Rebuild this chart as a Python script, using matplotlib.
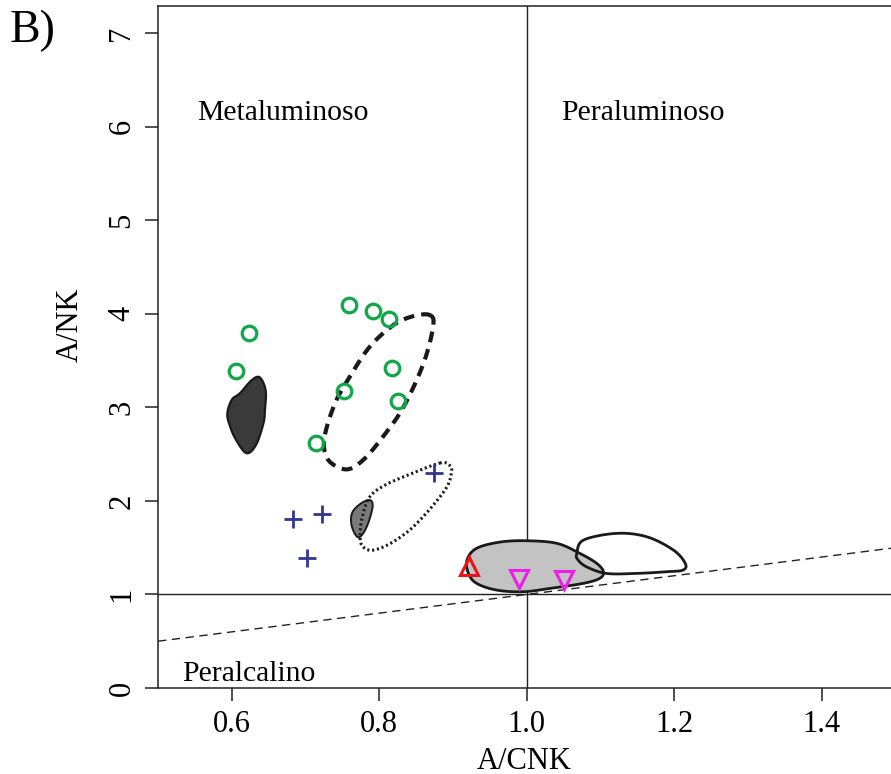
import numpy as np
import matplotlib
matplotlib.use("Agg")
import matplotlib.pyplot as plt
from matplotlib.patches import Polygon

plt.rcParams['font.family'] = ['Liberation Serif', 'DejaVu Serif']

# ---- data ----
green_x = [0.606, 0.623, 0.759, 0.792, 0.813, 0.817, 0.752, 0.825, 0.714]
green_y = [3.39, 3.79, 4.09, 4.03, 3.94, 3.42, 3.17, 3.07, 2.62]

cross_x = [0.874, 0.683, 0.722, 0.702]
cross_y = [2.30, 1.81, 1.86, 1.39]

red_x = [0.922]
red_y = [1.30]

mag_x = [0.989, 1.050]
mag_y = [1.17, 1.15]

# field outlines (vertices, data units)
dark_x = [0.638, 0.646, 0.645, 0.643, 0.633, 0.620, 0.606, 0.598, 0.594, 0.600, 0.611, 0.627]
dark_y = [3.32, 3.18, 2.97, 2.83, 2.60, 2.51, 2.65, 2.79, 2.93, 3.08, 3.15, 3.29]

dash_x = [0.869, 0.873, 0.860, 0.833, 0.805, 0.778, 0.756, 0.733, 0.725, 0.729, 0.742, 0.760, 0.787, 0.819, 0.846]
dash_y = [3.985, 3.86, 3.47, 3.005, 2.685, 2.436, 2.337, 2.418, 2.578, 2.792, 3.077, 3.326, 3.646, 3.878, 3.974]

dot_x = [0.882, 0.895, 0.898, 0.889, 0.851, 0.819, 0.792, 0.778, 0.774, 0.777, 0.787, 0.808, 0.842]
dot_y = [2.404, 2.383, 2.31, 2.115, 1.760, 1.563, 1.474, 1.510, 1.616, 1.827, 2.041, 2.169, 2.286]

small_x = [0.787, 0.791, 0.783, 0.772, 0.763, 0.763, 0.774]
small_y = [2.009, 1.937, 1.723, 1.610, 1.723, 1.866, 1.966]

light_x = [0.919, 0.932, 0.964, 1.000, 1.041, 1.072, 1.095, 1.104, 1.099, 1.077, 1.032, 0.995, 0.959, 0.932, 0.921]
light_y = [1.368, 1.493, 1.560, 1.574, 1.546, 1.439, 1.332, 1.243, 1.172, 1.119, 1.065, 1.029, 1.047, 1.119, 1.225]

open_x = [1.068, 1.077, 1.122, 1.163, 1.199, 1.215, 1.212, 1.190, 1.149, 1.108, 1.081, 1.069]
open_y = [1.439, 1.581, 1.653, 1.616, 1.474, 1.332, 1.261, 1.243, 1.225, 1.225, 1.296, 1.375]

line_x = [0.5, 1.5]
line_y = [0.5, 1.5]

xticks = [0.6, 0.8, 1.0, 1.2, 1.4]
xticklabels = ['0.6', '0.8', '1.0', '1.2', '1.4']
yticks = [0, 1, 2, 3, 4, 5, 6, 7]
yticklabels = ['0', '1', '2', '3', '4', '5', '6', '7']


def smooth_closed(x, y, n=24):
    pts = np.column_stack([x, y])
    N = len(pts)
    out = []
    t = np.linspace(0, 1, n, endpoint=False)[:, None]
    for i in range(N):
        p0, p1, p2, p3 = pts[(i - 1) % N], pts[i], pts[(i + 1) % N], pts[(i + 2) % N]
        out.append(0.5 * ((2 * p1) + (-p0 + p2) * t + (2 * p0 - 5 * p1 + 4 * p2 - p3) * t ** 2
                          + (-p0 + 3 * p1 - 3 * p2 + p3) * t ** 3))
    return np.vstack(out)


fig = plt.figure(figsize=(8.91, 7.74), dpi=100)
ax = fig.add_axes([158 / 891, 86 / 774, 733 / 891, 682 / 774])
ax.set_xlim(0.5, 1.494)
ax.set_ylim(0, 7.29)

# reference lines
ax.axvline(1.0, color='#222222', lw=1.0, zorder=1)
ax.axhline(1.0, color='#222222', lw=1.0, zorder=1)
ax.plot(line_x, line_y, color='#222222', lw=1.0, ls=(0, (6, 4)), zorder=1)

# fields
ax.add_patch(Polygon(smooth_closed(dark_x, dark_y), closed=True, fc='#3a3a3a', ec='#1a1a1a', lw=1.6, zorder=2))
ax.add_patch(Polygon(smooth_closed(small_x, small_y), closed=True, fc='#7a7a7a', ec='#1a1a1a', lw=1.4, zorder=2))
ax.add_patch(Polygon(smooth_closed(light_x, light_y), closed=True, fc='#c3c3c3', ec='#1a1a1a', lw=2.0, zorder=2))
ax.add_patch(Polygon(smooth_closed(open_x, open_y), closed=True, fc='none', ec='#1a1a1a', lw=2.0, zorder=3))
ax.add_patch(Polygon(smooth_closed(dash_x, dash_y), closed=True, fc='none', ec='#1a1a1a', lw=3.0,
                     ls=(0, (2.6, 1.7)), zorder=3))
ax.add_patch(Polygon(smooth_closed(dot_x, dot_y), closed=True, fc='none', ec='#1a1a1a', lw=2.2,
                     ls=(0, (0.7, 0.9)), zorder=3))

# samples
ax.plot(green_x, green_y, ls='none', marker='o', ms=10.5, mfc='none', mec='#12a54a', mew=2.3, zorder=5)
ax.plot(cross_x, cross_y, ls='none', marker='+', ms=13, mec='#33358f', mew=2.0, zorder=5)
ax.plot(red_x, red_y, ls='none', marker='^', ms=13, mfc='none', mec='#e8141c', mew=2.2, zorder=5)
ax.plot(mag_x, mag_y, ls='none', marker='v', ms=13, mfc='none', mec='#ee1ee8', mew=2.2, zorder=5)

# region labels
fs = 21.3
ax.text(0.553, 6.07, 'Metaluminoso', fontsize=fs, ha='left', va='baseline')
ax.text(1.047, 6.07, 'Peraluminoso', fontsize=fs, ha='left', va='baseline')
ax.text(0.5325, 0.075, 'Peralcalino', fontsize=fs, ha='left', va='baseline')

# axes styling
ax.spines['right'].set_visible(False)
for s in ['left', 'top', 'bottom']:
    ax.spines[s].set_linewidth(1.1)
    ax.spines[s].set_color('#222222')
ax.set_xticks(xticks)
ax.set_xticklabels(xticklabels, fontsize=22)
ax.set_yticks(yticks)
ax.set_yticklabels(yticklabels, fontsize=22, rotation=90, va='center')
ax.tick_params(direction='out', length=9.5, width=1.1, color='#222222', pad=6)

ax.set_xlabel('A/CNK', fontsize=22)
ax.set_ylabel('A/NK', fontsize=22)
ax.xaxis.set_label_coords(0.5, -0.086)
ax.yaxis.set_label_coords(-0.100, 0.532)

fig.text(10 / 891, 1 - 42 / 774, 'B)', fontsize=33, ha='left', va='baseline')

fig.savefig('out.png', dpi=100)
